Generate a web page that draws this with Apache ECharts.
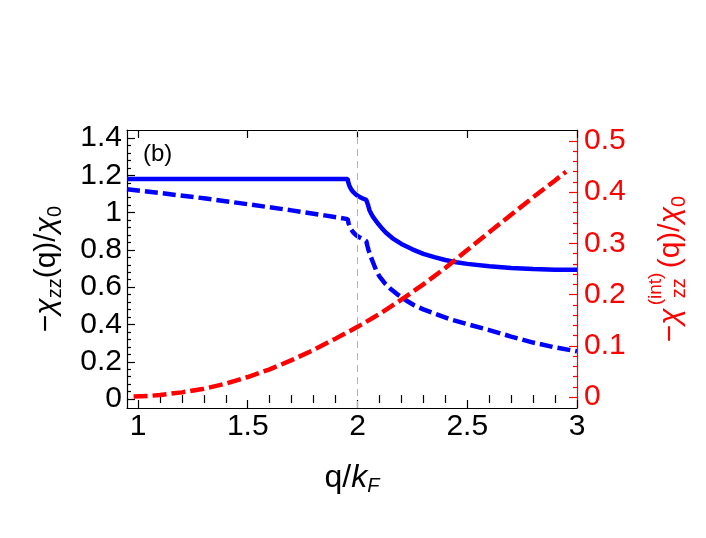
<!DOCTYPE html>
<html><head><meta charset="utf-8">
<script src="https://cdn.jsdelivr.net/npm/echarts@6/dist/echarts.min.js"></script>
<style>html,body{margin:0;padding:0;background:#fff}#c{width:706px;height:538px}</style>
</head><body><div id="c"></div>
<script>
// ---- data ----
const xMajorTicks = [1, 1.5, 2, 2.5, 3];
const xTickLabels = ['1', '1.5', '2', '2.5', '3'];
const xMinorTicks = [1.1, 1.2, 1.3, 1.4, 1.6, 1.7, 1.8, 1.9, 2.1, 2.2, 2.3, 2.4, 2.6, 2.7, 2.8, 2.9];
const leftMajorTicks = [0, 0.2, 0.4, 0.6, 0.8, 1, 1.2, 1.4];
const leftTickLabels = ['0', '0.2', '0.4', '0.6', '0.8', '1', '1.2', '1.4'];
const leftMinorTicks = [0.04, 0.08, 0.12, 0.16, 0.24, 0.28, 0.32, 0.36, 0.44, 0.48, 0.52, 0.56, 0.64, 0.68, 0.72, 0.76, 0.84, 0.88, 0.92, 0.96, 1.04, 1.08, 1.12, 1.16, 1.24, 1.28, 1.32, 1.36];
const rightMajorTicks = [0, 0.1, 0.2, 0.3, 0.4, 0.5];
const rightTickLabels = ['0', '0.1', '0.2', '0.3', '0.4', '0.5'];
const rightMinorTicks = [0.02, 0.04, 0.06, 0.08, 0.12, 0.14, 0.16, 0.18, 0.22, 0.24, 0.26, 0.28, 0.32, 0.34, 0.36, 0.38, 0.42, 0.44, 0.46, 0.48];

const qSolid   = [0.95, 1.2, 1.5, 1.8, 1.955, 1.958, 1.962, 1.967, 1.973, 1.98, 1.99, 2.0, 2.01, 2.02, 2.03, 2.04, 2.043, 2.047, 2.051, 2.055, 2.062, 2.07, 2.08, 2.092, 2.11, 2.13, 2.16, 2.2, 2.25, 2.3, 2.35, 2.4, 2.45, 2.5, 2.6, 2.7, 2.8, 2.9, 3.0];
const chiSolid = [1.18, 1.18, 1.18, 1.18, 1.18, 1.163, 1.148, 1.134, 1.122, 1.111, 1.1, 1.091, 1.084, 1.078, 1.073, 1.068, 1.06, 1.045, 1.028, 1.012, 0.995, 0.978, 0.962, 0.943, 0.918, 0.892, 0.862, 0.832, 0.803, 0.779, 0.761, 0.746, 0.734, 0.725, 0.712, 0.703, 0.697, 0.694, 0.694];

const qDashed   = [0.95, 1.1, 1.3, 1.5, 1.7, 1.85, 1.955, 1.96, 1.965, 1.972, 1.98, 1.99, 2.0, 2.01, 2.02, 2.03, 2.04, 2.045, 2.05, 2.06, 2.07, 2.085, 2.1, 2.125, 2.15, 2.18, 2.22, 2.26, 2.3, 2.35, 2.42, 2.5, 2.6, 2.7, 2.8, 2.9, 3.0];
const chiDashed = [1.125, 1.105, 1.077, 1.045, 1.012, 0.985, 0.965, 0.94, 0.925, 0.908, 0.895, 0.883, 0.874, 0.867, 0.861, 0.855, 0.847, 0.822, 0.8, 0.765, 0.735, 0.69, 0.658, 0.62, 0.592, 0.563, 0.53, 0.502, 0.481, 0.459, 0.428, 0.402, 0.37, 0.335, 0.303, 0.277, 0.256];

const qInt   = [0.98, 1.05, 1.1, 1.2, 1.3, 1.4, 1.5, 1.6, 1.7, 1.8, 1.9, 2.0, 2.1, 2.2, 2.3, 2.4, 2.5, 2.6, 2.7, 2.8, 2.9, 2.95];
const chiInt = [0.001, 0.002, 0.004, 0.009, 0.016, 0.026, 0.039, 0.054, 0.072, 0.092, 0.114, 0.137, 0.162, 0.19, 0.22, 0.252, 0.287, 0.322, 0.356, 0.39, 0.423, 0.44];

const markerQ = [2];

// ---- chart ----
const FONT = 'Liberation Sans, Arial, sans-serif';
const zip = (a, b) => a.map((v, i) => [v, b[i]]);
const lookup = (vals, labels) => (v) => {
  const i = vals.findIndex(t => Math.abs(t - v) < 1e-9);
  return i >= 0 ? labels[i] : '';
};
const X_RANGE = { min: 0.95, max: 3 };
const L_RANGE = { min: -0.048, max: 1.443 };
const R_RANGE = { min: -0.0215, max: 0.5215 };

function nameRich(color, big) {
  return {
    n: { fontSize: big, fontFamily: FONT, color, lineHeight: 36 },
    i: { fontSize: big, fontFamily: FONT, fontStyle: 'italic', color, lineHeight: 36 },
    s: { fontSize: 20, fontFamily: FONT, color, lineHeight: 14, verticalAlign: 'bottom' },
    si: { fontSize: 20, fontFamily: FONT, fontStyle: 'italic', color, lineHeight: 14, verticalAlign: 'bottom' },
    z: { fontSize: 20, fontFamily: FONT, color, lineHeight: 14, verticalAlign: 'bottom', width: 40 }
  };
}

function axisPair(pos, range, major, minor, labels, color, margin, extra) {
  const main = Object.assign({
    type: 'value', position: pos, min: range.min, max: range.max,
    axisLine: { show: true, onZero: false, lineStyle: { color, width: 1.2 } },
    axisTick: { show: true, inside: true, length: 8, customValues: major, lineStyle: { color, width: 1.2 } },
    axisLabel: labels ? { show: true, customValues: major, formatter: lookup(major, labels), fontSize: 30, fontFamily: FONT, color, margin } : { show: false },
    splitLine: { show: false }, minorTick: { show: false }
  }, extra || {});
  const sub = {
    type: 'value', position: pos, min: range.min, max: range.max,
    axisLine: { show: false },
    axisTick: { show: true, inside: true, length: 4, customValues: minor, lineStyle: { color, width: 1.2 } },
    axisLabel: { show: false }, splitLine: { show: false }
  };
  return [main, sub];
}

const xAxes = [
  ...axisPair('bottom', X_RANGE, xMajorTicks, xMinorTicks, xTickLabels, '#000', 4, {
    name: '{n|q/}{i|k}{si|F}', nameLocation: 'middle', nameGap: 52,
    nameTextStyle: { rich: nameRich('#000', 32) }
  }),
  ...axisPair('top', X_RANGE, xMajorTicks, xMinorTicks, null, '#000', 0)
];

const yAxes = [
  ...axisPair('left', L_RANGE, leftMajorTicks, leftMinorTicks, leftTickLabels, '#000', 5, {
    name: '{n|−}{i|χ}{s|zz}{n|(q)/}{i|χ}{s|0}', nameLocation: 'middle', nameGap: 62, nameRotate: 90,
    nameTextStyle: { rich: nameRich('#000', 30) }
  }),
  ...axisPair('right', R_RANGE, rightMajorTicks, rightMinorTicks, rightTickLabels, '#ff0000', 7, {
    name: '{n|−}{i|χ}{z|zz}{n|(q)/}{i|χ}{s|0}', nameLocation: 'middle', nameGap: 76, nameRotate: 90,
    nameTextStyle: { rich: nameRich('#ff0000', 30) }
  })
];

const chart = echarts.init(document.getElementById('c'), null, { renderer: 'canvas' });
chart.setOption({
  animation: false,
  backgroundColor: '#fff',
  grid: { left: 127, right: 129, top: 130, bottom: 130, containLabel: false },
  xAxis: xAxes,
  yAxis: yAxes,
  graphic: [
    { type: 'text', left: 143, top: 142, style: { text: '(b)', fontSize: 24, fontFamily: FONT, fill: '#000' } },
    { type: 'text', x: 656, y: 289, rotation: Math.PI / 2,
      style: { text: '(int)', fontSize: 19, fontFamily: FONT, fill: '#ff0000', align: 'center', verticalAlign: 'middle' } }
  ],
  series: [
    { type: 'line', xAxisIndex: 0, yAxisIndex: 0, data: [], symbol: 'none', silent: true, z: 1,
      markLine: { symbol: 'none', silent: true, label: { show: false },
        lineStyle: { color: '#b4b4b4', width: 1, type: [7, 5] },
        data: markerQ.map(v => ({ xAxis: v })) } },
    { type: 'line', xAxisIndex: 0, yAxisIndex: 0, data: zip(qSolid, chiSolid), symbol: 'none', silent: true, z: 3,
      lineStyle: { color: '#0000ff', width: 4.5 } },
    { type: 'line', xAxisIndex: 0, yAxisIndex: 0, data: zip(qDashed, chiDashed), symbol: 'none', silent: true, z: 3,
      lineStyle: { color: '#0000ff', width: 4.5, type: [13, 5], cap: 'butt' } },
    { type: 'line', xAxisIndex: 0, yAxisIndex: 2, data: zip(qInt, chiInt), symbol: 'none', silent: true, z: 4,
      lineStyle: { color: '#ff0000', width: 4.5, type: [14, 5], cap: 'butt' } }
  ]
});
</script>
</body></html>
